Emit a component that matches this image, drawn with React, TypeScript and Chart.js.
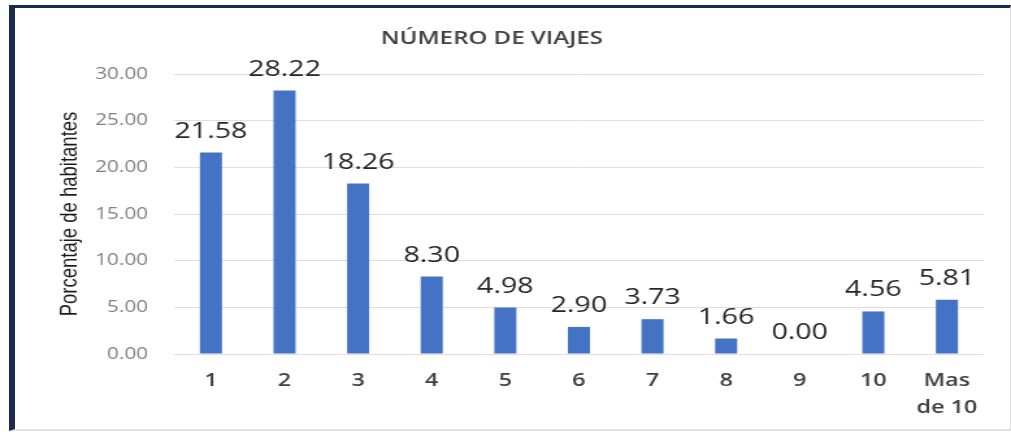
import React, { useEffect, useRef } from "react";
import { Chart, registerables } from "chart.js";

Chart.register(...registerables);

const categories: (string | string[])[] = ["1", "2", "3", "4", "5", "6", "7", "8", "9", "10", ["Mas", "de 10"]];
const values: number[] = [21.58, 28.22, 18.26, 8.3, 4.98, 2.9, 3.73, 1.66, 0.0, 4.56, 5.81];
const yTicks: number[] = [0, 5, 10, 15, 20, 25, 30];
const chartTitle = "NÚMERO DE VIAJES";
const yTitle = "Porcentaje de habitantes";

const OUT_W = 1011;
const H = 432;
const W = 778; // internal canvas width, stretched horizontally to OUT_W

export default function App() {
  const ref = useRef<HTMLCanvasElement>(null);

  useEffect(() => {
    const canvas = ref.current;
    if (!canvas) return;

    const labelPlugin = {
      id: "barValues",
      afterDatasetsDraw(chart: any) {
        const ctx = chart.ctx;
        const meta = chart.getDatasetMeta(0);
        ctx.save();
        ctx.font = '22px "Open Sans"';
        ctx.fillStyle = "#262626";
        ctx.textAlign = "center";
        ctx.textBaseline = "alphabetic";
        meta.data.forEach((el: any, i: number) => {
          ctx.fillText(values[i].toFixed(2), el.x, el.y - 15);
        });
        ctx.restore();
      },
    };

    const chart = new Chart(canvas, {
      type: "bar",
      data: {
        labels: categories,
        datasets: [
          {
            data: values,
            backgroundColor: "#4472C4",
            barPercentage: 0.3,
            categoryPercentage: 1,
          },
        ],
      },
      options: {
        animation: false,
        responsive: false,
        devicePixelRatio: 1,
        layout: { padding: { left: 0, right: 21, top: 0, bottom: 0 } },
        plugins: {
          legend: { display: false },
          tooltip: { enabled: false },
          title: {
            display: true,
            text: chartTitle,
            color: "#404040",
            font: { family: '"Open Sans"', size: 18.5, weight: "600" },
            padding: { top: 27.4, bottom: 24.4 },
          },
        },
        scales: {
          x: {
            grid: { display: false, drawTicks: false },
            border: { display: false },
            ticks: {
              color: "#404040",
              font: { family: '"Open Sans"', size: 18, weight: "600", lineHeight: 1.5 },
              padding: 13.5,
              maxRotation: 0,
              autoSkip: false,
            },
            afterFit(scale: any) {
              scale.height = 78;
            },
          },
          y: {
            min: yTicks[0],
            max: yTicks[yTicks.length - 1],
            ticks: {
              stepSize: yTicks[1] - yTicks[0],
              padding: 20,
              color: "#7f7f7f",
              font: { family: '"Open Sans"', size: 16 },
              callback: (v: any) => Number(v).toFixed(2),
            },
            grid: { color: "#dedede", lineWidth: 1, drawTicks: false },
            border: { display: false },
            title: {
              display: true,
              text: yTitle,
              color: "#1a1a1a",
              font: { family: '"Liberation Sans", Arial', size: 18.5 },
              padding: { top: 42.8, bottom: 0 },
            },
            afterFit(scale: any) {
              scale.width = 134;
            },
          },
        },
      },
      plugins: [labelPlugin],
    } as any);

    return () => chart.destroy();
  }, []);

  return (
    <div
      style={{
        position: "fixed",
        left: 0,
        top: 0,
        width: OUT_W,
        height: H,
        background: "#ffffff",
        overflow: "hidden",
      }}
    >
      <div
        style={{
          position: "absolute",
          left: 0,
          top: 0,
          width: W,
          height: H,
          transform: `scaleX(${OUT_W / W})`,
          transformOrigin: "0 0",
        }}
      >
        <canvas ref={ref} width={W} height={H} style={{ width: W, height: H, display: "block" }} />
      </div>
      <div
        style={{
          position: "absolute",
          left: 9,
          top: 5,
          width: 1002,
          height: 426,
          boxSizing: "border-box",
          borderTop: "3px solid #1c2a4f",
          borderLeft: "6px solid #1c2a4f",
          borderRight: "1px solid #dcdcdc",
          borderBottom: "2px solid #e2e2e2",
          pointerEvents: "none",
        }}
      />
    </div>
  );
}
